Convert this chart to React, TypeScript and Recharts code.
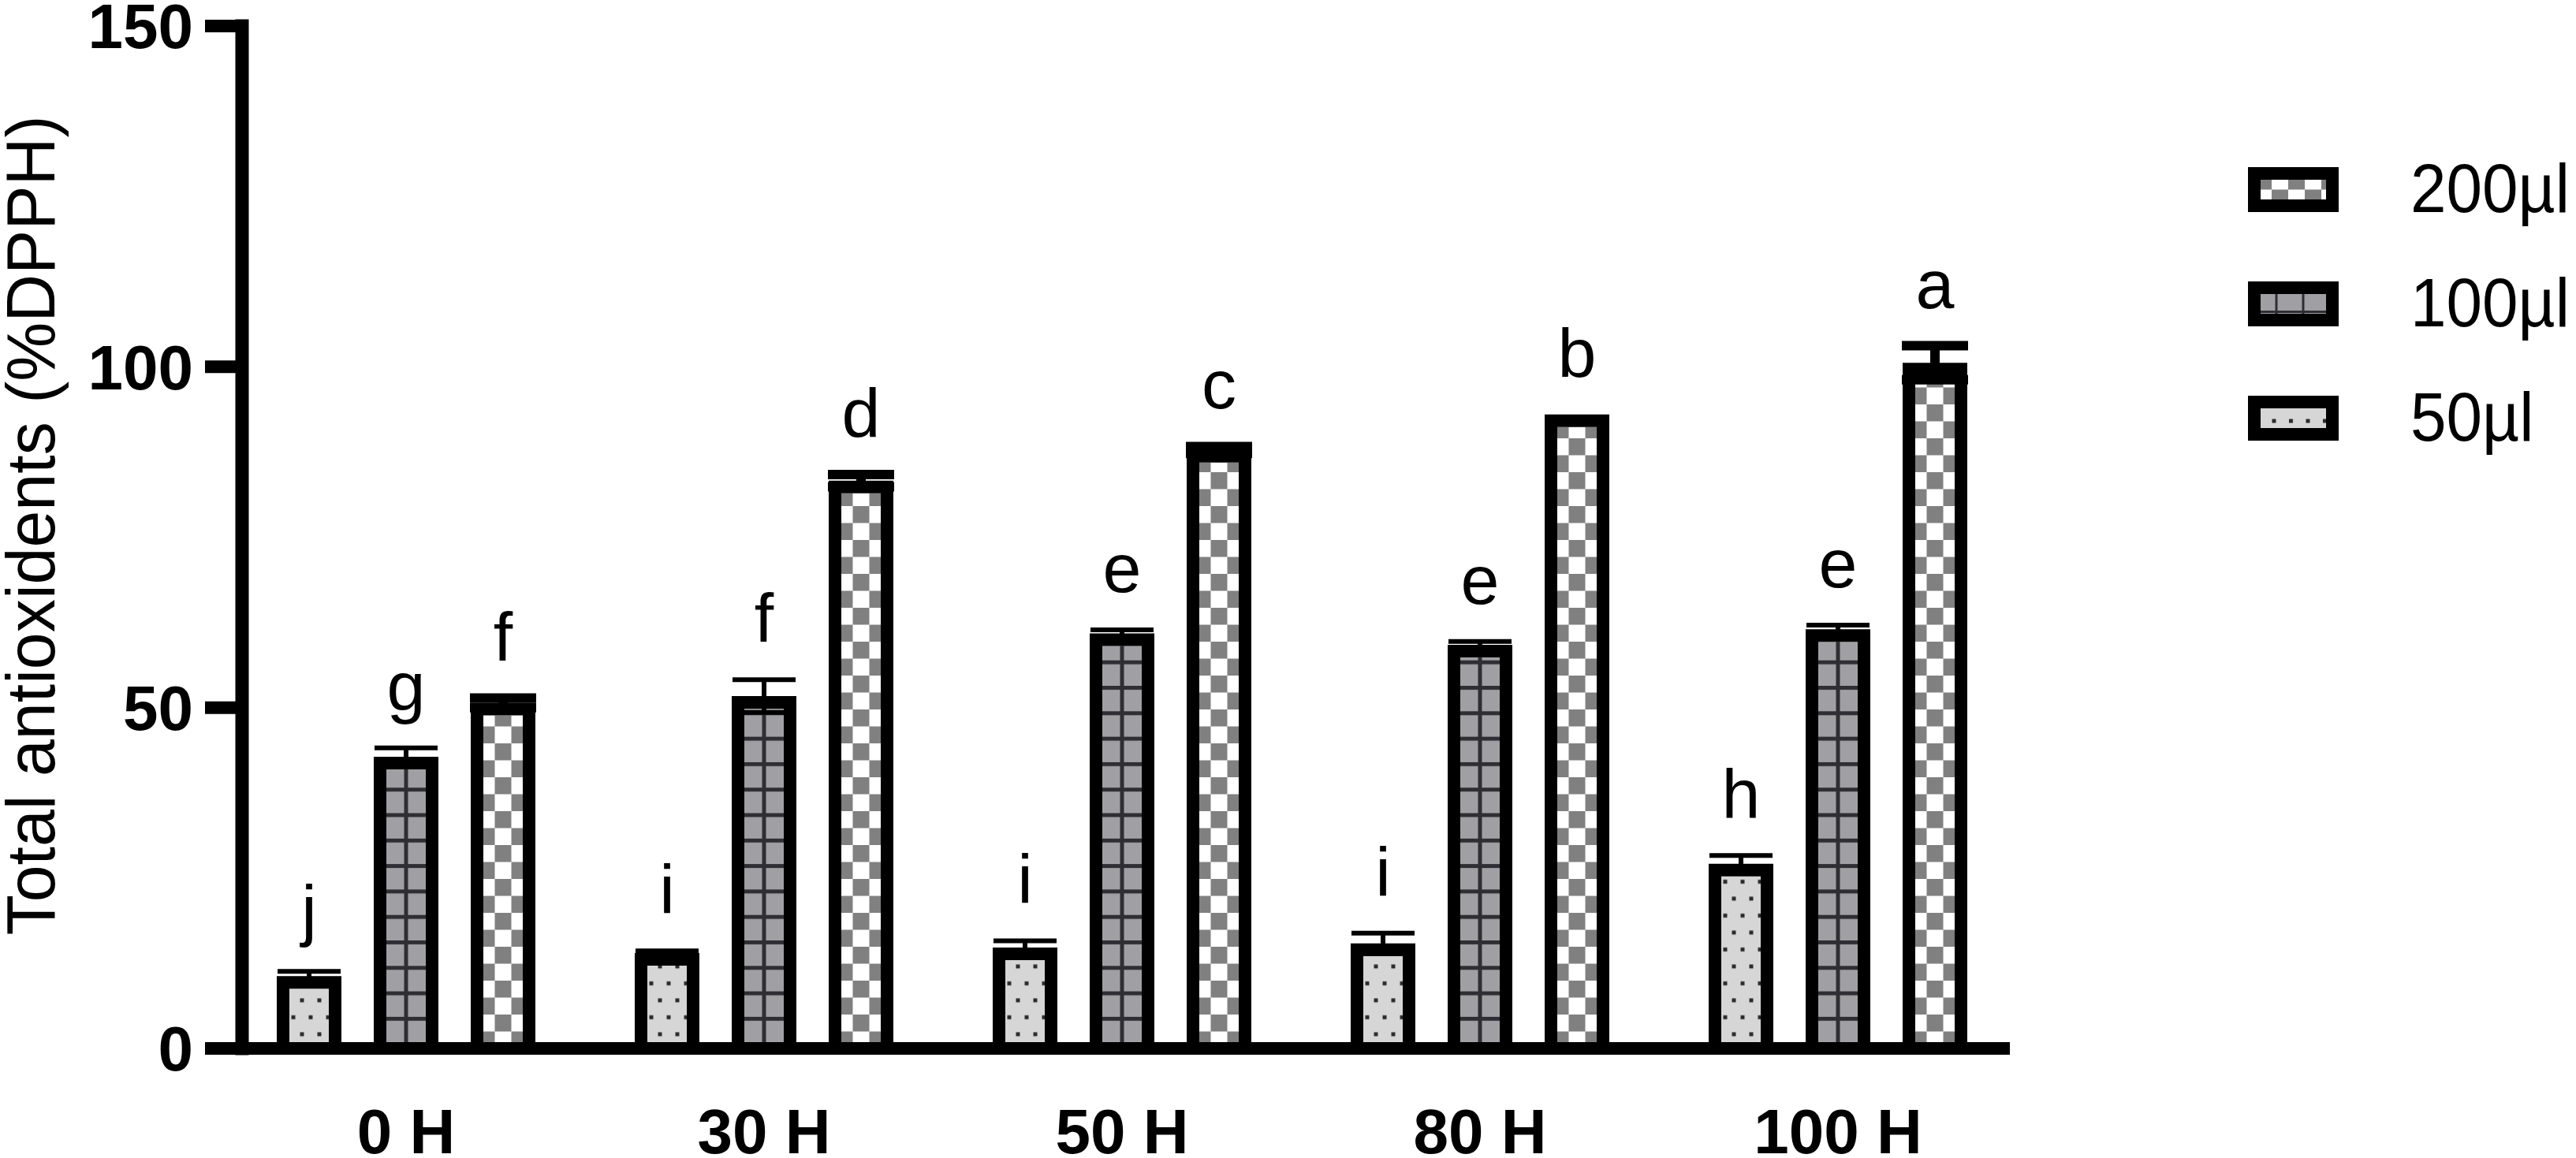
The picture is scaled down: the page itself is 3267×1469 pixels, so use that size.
import React from "react";
import { BarChart, Bar, XAxis, YAxis, ErrorBar, LabelList, Legend } from "recharts";

// values (%DPPH)
const CATEGORIES = ["0 H", "30 H", "50 H", "80 H", "100 H"];
const VAL_50 = [10.6, 14.0, 14.8, 15.4, 27.1];
const ERR_50 = [0.7, 0.3, 1.0, 1.5, 1.2];
const VAL_100 = [42.8, 51.7, 60.9, 59.2, 61.5];
const ERR_100 = [1.3, 2.4, 0.5, 0.5, 0.6];
const VAL_200 = [50.7, 83.3, 87.8, 93.0, 100.6];
const ERR_200 = [0.7, 0.9, 0.5, null, 2.5];
const LET_50 = ["j", "i", "i", "i", "h"];
const LET_100 = ["g", "f", "e", "e", "e"];
const LET_200 = ["f", "d", "c", "b", "a"];
const Y_TICKS = [0, 50, 100, 150];
const LEGEND_ITEMS = ["200µl", "100µl", "50µl"];

const data = CATEGORIES.map((cat, i) => ({
  cat,
  v50: VAL_50[i],
  e50: ERR_50[i],
  v100: VAL_100[i],
  e100: ERR_100[i],
  v200: VAL_200[i],
  e200: ERR_200[i],
}));

const FONT = '"Liberation Sans", Arial, sans-serif';
const BORDER = 16;
const DOT_BG = "#d6d6d6";
const DOT = "#2b2b2b";
const GRID_BG = "#a0a0a4";
const GRID_LINE = "#2e2e34";
const CHECK = "#808080";

function PatternBar(props: any) {
  const { x, y, width, height, index, kind } = props;
  if (!height || height <= 0) return null;
  const cx = x + width / 2;
  const bottom = y + height;
  const id = `${kind}-${index}`;
  let defs: React.ReactNode = null;
  let extra: React.ReactNode = null;

  if (kind === "dots") {
    defs = (
      <pattern id={id} patternUnits="userSpaceOnUse" x={cx + 2 - 5.5} y={bottom - 18 - 10.75} width={22} height={43}>
        <rect width={22} height={43} fill={DOT_BG} />
        <rect x={14} y={8.25} width={5} height={5} fill={DOT} />
        <rect x={3} y={29.75} width={5} height={5} fill={DOT} />
      </pattern>
    );
  } else if (kind === "grid") {
    defs = (
      <pattern id={id} patternUnits="userSpaceOnUse" x={0} y={-2.1} width={10} height={32.3}>
        <rect width={10} height={32.3} fill={GRID_BG} />
        <rect width={10} height={5} fill={GRID_LINE} />
      </pattern>
    );
    extra = <rect x={cx - 2.5} y={y + BORDER} width={5} height={height - BORDER} fill={GRID_LINE} />;
  } else {
    defs = (
      <pattern id={id} patternUnits="userSpaceOnUse" x={cx - 10.5} y={bottom} width={42} height={43}>
        <rect width={42} height={43} fill="#fff" />
        <rect width={21} height={21.5} fill={CHECK} />
        <rect x={21} y={21.5} width={21} height={21.5} fill={CHECK} />
      </pattern>
    );
  }

  const h = BORDER / 2;
  return (
    <g>
      <defs>{defs}</defs>
      <rect x={x + BORDER} y={y + BORDER} width={width - 2 * BORDER} height={Math.max(0, height - BORDER)} fill={`url(#${id})`} />
      {extra}
      <path
        d={`M${x + h},${bottom} L${x + h},${y + h} L${x + width - h},${y + h} L${x + width - h},${bottom}`}
        stroke="#000"
        strokeWidth={BORDER}
        strokeLinejoin="miter"
        fill="none"
      />
    </g>
  );
}

const letterContent = (letters: string[], vals: number[], errs: (number | null)[]) => (p: any) => {
  const i = p.index;
  const vb = p.viewBox && p.viewBox.width != null ? p.viewBox : p;
  const { x, y, width, height } = vb;
  if (i == null || x == null) return null;
  const k = height / vals[i];
  const top = y - (errs[i] ?? 0) * k;
  return (
    <text x={x + width / 2} y={top - 48} textAnchor="middle" fontSize={88} fontFamily={FONT} fill="#000">
      {letters[i]}
    </text>
  );
};

const renderYLabel = (p: any) => {
  const vb = p.viewBox || { x: 0, y: 33, width: 307, height: 1297 };
  const cy = vb.y + vb.height / 2 - 15;
  const lx = vb.x + 69;
  return (
    <text
      x={lx}
      y={cy}
      transform={`rotate(-90 ${lx} ${cy})`}
      textAnchor="middle"
      fontSize={87}
      fontFamily={FONT}
      fill="#000"
      textLength={1040}
      lengthAdjust="spacingAndGlyphs"
    >
      Total antioxidents (%DPPH)
    </text>
  );
};

const XTick = (p: any) => (
  <text x={p.x} y={p.y + 133} textAnchor="middle" fontSize={80} fontWeight={700} fontFamily={FONT} fill="#000">
    {p.payload.value}
  </text>
);

function LegendBox() {
  return (
    <svg width={432} height={400} style={{ display: "block" }}>
      <defs>
        <pattern id="lg-chk" patternUnits="userSpaceOnUse" x={25} y={33} width={42} height={25}>
          <rect width={42} height={25} fill="#fff" />
          <rect width={21} height={12.5} fill={CHECK} />
          <rect x={21} y={12.5} width={21} height={12.5} fill={CHECK} />
        </pattern>
        <pattern id="lg-grid" patternUnits="userSpaceOnUse" x={50.5} y={178} width={34} height={25}>
          <rect width={34} height={25} fill={GRID_BG} />
          <rect width={3} height={25} fill={GRID_LINE} />
          <rect y={21} width={34} height={3} fill={GRID_LINE} />
        </pattern>
        <pattern id="lg-dots" patternUnits="userSpaceOnUse" x={46.5} y={323} width={21.5} height={25}>
          <rect width={21.5} height={25} fill={DOT_BG} />
          <rect y={13.5} width={5} height={5} fill={DOT} />
        </pattern>
      </defs>
      {LEGEND_ITEMS.map((name, k) => (
        <g key={name}>
          <rect
            x={24}
            y={25 + 145 * k}
            width={99}
            height={41}
            fill={`url(#${["lg-chk", "lg-grid", "lg-dots"][k]})`}
            stroke="#000"
            strokeWidth={16}
          />
          <text
            transform={`translate(222 ${74 + 145 * k}) scale(0.93 1)`}
            fontSize={88}
            fontFamily={FONT}
            fill="#000"
          >
            {name}
          </text>
        </g>
      ))}
    </svg>
  );
}

export default function App() {
  return (
    <div style={{ width: 3267, height: 1469, background: "#fff" }}>
      <style>{"body{margin:0;background:#fff}"}</style>
      <BarChart
        width={3267}
        height={1469}
        data={data}
        margin={{ top: 33, right: 718, bottom: 0, left: 0 }}
        barSize={82}
        barGap={41}
      >
        <XAxis
          dataKey="cat"
          height={139}
          padding={{ left: -19, right: -9 }}
          tickLine={false}
          tickSize={0}
          tickMargin={0}
          axisLine={{ stroke: "#000", strokeWidth: 16 }}
          tick={<XTick />}
          interval={0}
        />
        <YAxis
          width={307}
          domain={[0, 150]}
          ticks={Y_TICKS}
          interval={0}
          tickSize={47}
          tickMargin={15}
          axisLine={{ stroke: "#000", strokeWidth: 17, strokeLinecap: "square" }}
          tickLine={{ stroke: "#000", strokeWidth: 16 }}
          tick={{ fontSize: 80, fontWeight: 700, fill: "#000", fontFamily: FONT }}
          label={renderYLabel}
        />
        <Legend
          layout="vertical"
          align="center"
          verticalAlign="middle"
          wrapperStyle={{ position: "absolute", left: 2835, top: 195, width: 432, height: 400 }}
          content={() => <LegendBox />}
        />
        <Bar dataKey="v50" name="50µl" isAnimationActive={false} shape={(p: any) => <PatternBar {...p} kind="dots" />}>
          <ErrorBar dataKey="e50" width={40} strokeWidth={6} stroke="#000" isAnimationActive={false} />
          <LabelList dataKey="v50" content={letterContent(LET_50, VAL_50, ERR_50)} />
        </Bar>
        <Bar dataKey="v100" name="100µl" isAnimationActive={false} shape={(p: any) => <PatternBar {...p} kind="grid" />}>
          <ErrorBar dataKey="e100" width={40} strokeWidth={6} stroke="#000" isAnimationActive={false} />
          <LabelList dataKey="v100" content={letterContent(LET_100, VAL_100, ERR_100)} />
        </Bar>
        <Bar dataKey="v200" name="200µl" isAnimationActive={false} shape={(p: any) => <PatternBar {...p} kind="check" />}>
          <ErrorBar dataKey="e200" width={42} strokeWidth={12} stroke="#000" isAnimationActive={false} />
          <LabelList dataKey="v200" content={letterContent(LET_200, VAL_200, ERR_200)} />
        </Bar>
      </BarChart>
    </div>
  );
}
